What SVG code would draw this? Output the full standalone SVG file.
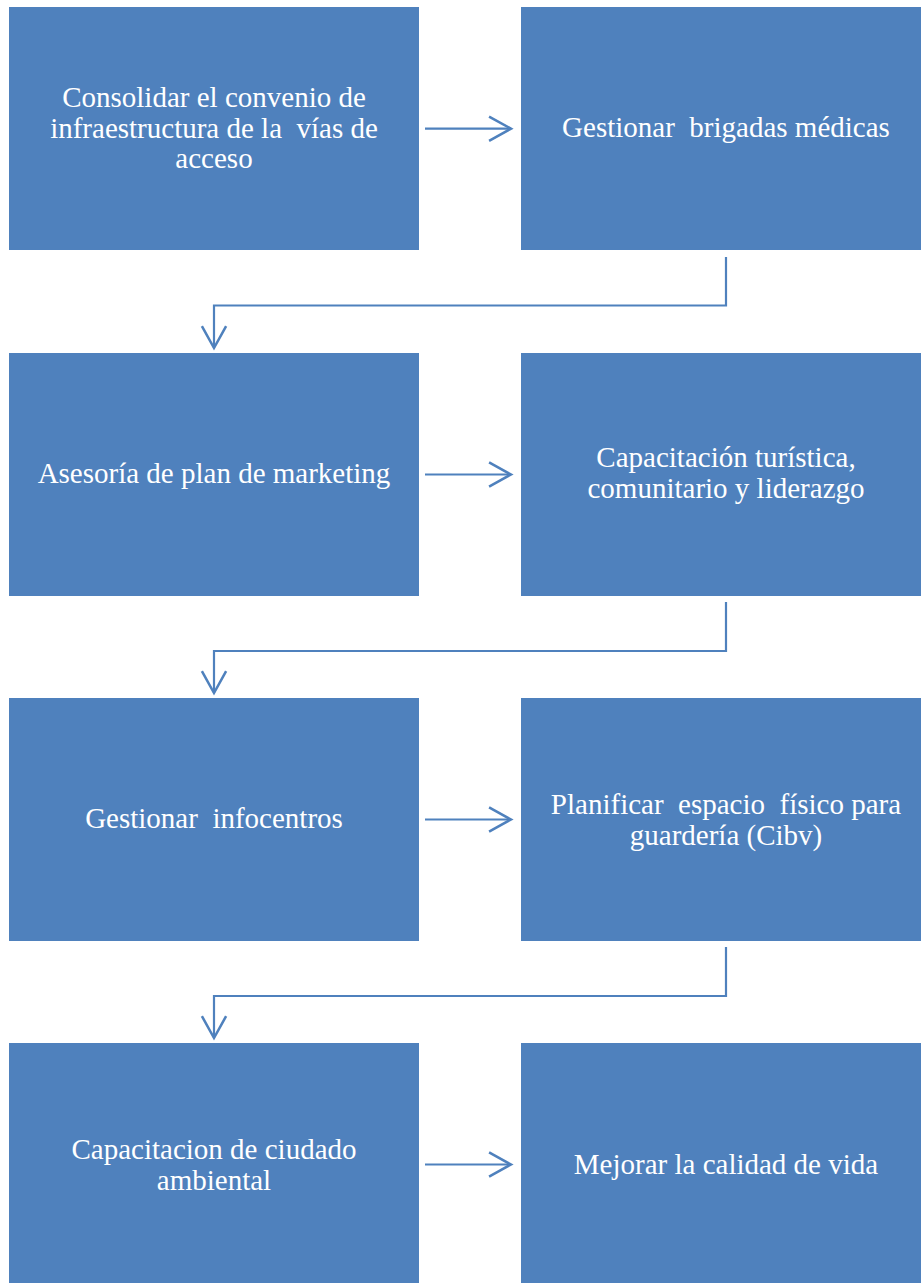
<svg xmlns="http://www.w3.org/2000/svg" width="921" height="1283" viewBox="0 0 921 1283">
<style>
.box{fill:#4F81BD;}
.t{font-size:29px;fill:#FFFFFF;text-anchor:middle;white-space:pre;}
.c{fill:none;stroke:#4F81BD;stroke-width:2.2;}
</style>
<defs>
<marker id="ah" markerUnits="userSpaceOnUse" markerWidth="30" markerHeight="30" viewBox="-22 -13 26 26" refX="0" refY="0" orient="auto">
<path d="M-19,-10.5 L0,0 L-19,10.5" fill="none" stroke="#4F81BD" stroke-width="2.2"/>
</marker>
</defs>
<rect width="921" height="1283" fill="#FFFFFF"/>
<g font-family="'Liberation Serif', 'DejaVu Serif', serif">
<g id="n1"><rect class="box" x="9" y="7" width="410" height="243"/>
<text class="t" x="214" y="107">Consolidar el convenio de</text>
<text class="t" x="214" y="137.5">infraestructura de la  vías de</text>
<text class="t" x="214" y="168">acceso</text></g>
<g id="n2"><rect class="box" x="521" y="7" width="410" height="243"/>
<text class="t" x="726" y="137">Gestionar  brigadas médicas</text></g>
<g id="n3"><rect class="box" x="9" y="353" width="410" height="243"/>
<text class="t" x="214" y="483">Asesoría de plan de marketing</text></g>
<g id="n4"><rect class="box" x="521" y="353" width="410" height="243"/>
<text class="t" x="726" y="467">Capacitación turística,</text>
<text class="t" x="726" y="497.5">comunitario y liderazgo</text></g>
<g id="n5"><rect class="box" x="9" y="698" width="410" height="243"/>
<text class="t" x="214" y="828">Gestionar  infocentros</text></g>
<g id="n6"><rect class="box" x="521" y="698" width="410" height="243"/>
<text class="t" x="726" y="814">Planificar  espacio  físico para</text>
<text class="t" x="726" y="844.5">guardería (Cibv)</text></g>
<g id="n7"><rect class="box" x="9" y="1043" width="410" height="250"/>
<text class="t" x="214" y="1159">Capacitacion de ciudado</text>
<text class="t" x="214" y="1190">ambiental</text></g>
<g id="n8"><rect class="box" x="521" y="1043" width="410" height="250"/>
<text class="t" x="726" y="1174">Mejorar la calidad de vida</text></g>
</g>
<g id="connectors">
<path class="c" d="M425,128.7 H511" marker-end="url(#ah)"/>
<path class="c" d="M425,474.5 H511" marker-end="url(#ah)"/>
<path class="c" d="M425,819.5 H511" marker-end="url(#ah)"/>
<path class="c" d="M425,1164.5 H511" marker-end="url(#ah)"/>
<path class="c" d="M726,257 V305.5 H214 V348" marker-end="url(#ah)"/>
<path class="c" d="M726,602 V651 H214 V693" marker-end="url(#ah)"/>
<path class="c" d="M726,947 V996 H214 V1038" marker-end="url(#ah)"/>
</g>
</svg>
